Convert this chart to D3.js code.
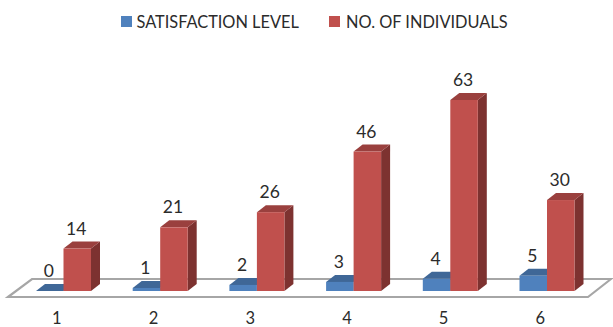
<!DOCTYPE html>
<html>
<head>
<meta charset="utf-8">
<style>
html,body{margin:0;padding:0;background:#fff;}
svg{display:block;}
text{font-family:Lato,"Open Sans",sans-serif;fill:#2b2b2b;}
</style>
</head>
<body>
<svg id="chart" width="613" height="327"></svg>
<script src="https://cdn.jsdelivr.net/npm/d3@7/dist/d3.min.js"></script>
<script>
// Survey results: satisfaction level against number of individuals
const categories = ["1", "2", "3", "4", "5", "6"];
const seriesNames = ["SATISFACTION LEVEL", "NO. OF INDIVIDUALS"];
const satisfactionLevel = [0, 1, 2, 3, 4, 5];
const individuals = [14, 21, 26, 46, 63, 30];

const colors = [
  {front: "#4f81bd", top: "#3f6797", side: "#3a5f8c"},
  {front: "#c0504d", top: "#9a403e", side: "#7d3230"}
];

const svg = d3.select("#chart");
const baseY = 291, depthX = 9, depthY = 7;

const x = d3.scaleBand().domain(categories).range([14.5, 594.7]);
const inner = d3.scaleBand().domain(seriesNames).range([21.5, 76.5]);
const y = d3.scaleLinear().domain([0, 63]).range([baseY, 100]);

// Floor of the 3D plot
svg.append("path")
  .attr("d", "M8,297 L32,279 L611,279 L588,297 Z")
  .attr("fill", "#fff")
  .attr("stroke", "#a6a6a6")
  .attr("stroke-width", 2.2);

const rows = categories.map((c, i) => [
  {cat: c, name: seriesNames[0], value: satisfactionLevel[i], color: colors[0]},
  {cat: c, name: seriesNames[1], value: individuals[i], color: colors[1]}
]);

const groups = svg.selectAll("g.cat").data(rows).join("g").attr("class", "cat")
  .attr("transform", d => `translate(${x(d[0].cat)},0)`);

const bars = groups.selectAll("g.bar").data(d => d).join("g").attr("class", "bar");

// Right-hand face, then the top face, then the front face of each bar
bars.append("path")
  .attr("fill", d => d.color.side)
  .attr("d", d => {
    const r = inner(d.name) + inner.bandwidth(), t = y(d.value);
    return `M${r},${t} L${r + depthX},${t - depthY} L${r + depthX},${baseY - depthY} L${r},${baseY} Z`;
  });
bars.append("path")
  .attr("fill", d => d.color.top)
  .attr("d", d => {
    const l = inner(d.name), r = l + inner.bandwidth(), t = y(d.value);
    return `M${l},${t} L${l + depthX},${t - depthY} L${r + depthX},${t - depthY} L${r},${t} Z`;
  });
bars.append("rect")
  .attr("fill", d => d.color.front)
  .attr("x", d => inner(d.name))
  .attr("width", inner.bandwidth())
  .attr("y", d => y(d.value))
  .attr("height", d => baseY - y(d.value));

// Value labels above each bar
bars.append("text")
  .attr("x", d => inner(d.name) + inner.bandwidth() / 2 - 1)
  .attr("y", d => y(d.value) - 14)
  .attr("text-anchor", "middle")
  .attr("font-size", 17.5)
  .text(d => d.value);

// Category labels below the floor
svg.selectAll("text.tick").data(categories).join("text").attr("class", "tick")
  .attr("x", d => x(d) + x.bandwidth() / 2 - 6)
  .attr("y", 323.5)
  .attr("text-anchor", "middle")
  .attr("font-size", 16.5)
  .text(d => d);

// Legend
const legendX = [121, 329];
const legend = svg.selectAll("g.legend").data(seriesNames).join("g").attr("class", "legend")
  .attr("transform", (d, i) => `translate(${legendX[i]},16)`);
legend.append("rect").attr("width", 11).attr("height", 11)
  .attr("fill", (d, i) => colors[i].front);
legend.append("text").attr("x", (d, i) => i ? 17 : 15.5).attr("y", 11.5)
  .attr("font-size", 16.35).text(d => d);
</script>
</body>
</html>
